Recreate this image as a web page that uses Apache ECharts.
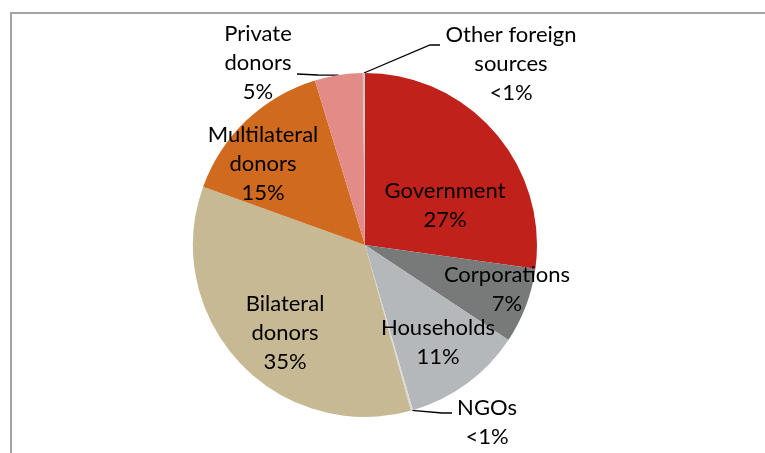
<!DOCTYPE html>
<html>
<head>
<meta charset="utf-8">
<script src="https://cdn.jsdelivr.net/npm/echarts@6/dist/echarts.min.js"></script>
<style>
  html, body { margin: 0; padding: 0; background: #fff; }
  #chart { width: 765px; height: 453px; }
</style>
</head>
<body>
<div id="chart"></div>
<script>
// Funding sources, share of total (%), clockwise from the top
const categories = ['Government', 'Corporations', 'Households', 'NGOs',
  'Bilateral donors', 'Multilateral donors', 'Private donors', 'Other foreign sources'];
const shares = [27.2, 7.1, 11.2, 0.2, 34.8, 14.8, 4.5, 0.2];
const labelNames = ['Government', 'Corporations', 'Households', 'NGOs',
  'Bilateral\ndonors', 'Multilateral\ndonors', 'Private\ndonors', 'Other foreign\nsources'];

const sliceColors = ['#C0211A', '#787A7A', '#B5B8BA', '#D9D9D9',
  '#C6B993', '#CF6A1F', '#E38B86', '#C8C8C8'];

// Pie geometry
const CX = 365, CY = 245, R = 172;

// Label block centres, offset from the pie centre
const labelOffsets = [[80, -40], [142, 44], [73, 97], [122, 177],
  [-80, 88], [-102, -81], [-107, -182], [146, -181]];
// Leader line bend and end points for the labels placed outside
const leaderLines = {
  3: [[442, 413], [452, 413]],
  6: [[318, 75], [297, 74]],
  7: [[430, 45], [440, 45]]
};

const total = shares.reduce((a, b) => a + b, 0);
function edgePoint(i) {
  let before = 0;
  for (let k = 0; k < i; k++) before += shares[k];
  const ang = (before + shares[i] / 2) / total * Math.PI * 2;
  return [CX + R * Math.sin(ang), CY - R * Math.cos(ang)];
}

function pctText(v) {
  return v < 1 ? '<1%' : Math.round(v) + '%';
}

const chart = echarts.init(document.getElementById('chart'), null, { renderer: 'canvas' });
chart.setOption({
  backgroundColor: '#ffffff',
  animation: false,
  graphic: [{
    type: 'polyline',
    shape: { points: [[11, 453], [11, 13], [765, 13]] },
    style: { stroke: '#a3a3a3', lineWidth: 2, fill: null },
    silent: true
  }],
  series: [{
    type: 'pie',
    center: [CX, CY],
    radius: R,
    startAngle: 90,
    clockwise: true,
    avoidLabelOverlap: false,
    itemStyle: { borderWidth: 0 },
    label: {
      show: true,
      position: 'inside',
      color: '#000',
      fontFamily: 'Lato',
      fontSize: 22,
      lineHeight: 29,
      align: 'center',
      formatter: p => labelNames[p.dataIndex] + '\n' + pctText(p.value)
    },
    labelLine: { show: false },
    labelLayout: function (params) {
      const i = params.dataIndex;
      const o = labelOffsets[i];
      const res = { x: CX + o[0], y: CY + o[1], align: 'center', verticalAlign: 'middle' };
      if (leaderLines[i]) {
        res.labelLinePoints = [edgePoint(i), leaderLines[i][0], leaderLines[i][1]];
      }
      return res;
    },
    data: categories.map((name, i) => {
      const d = { name: name, value: shares[i], itemStyle: { color: sliceColors[i] } };
      if (leaderLines[i]) {
        d.label = { position: 'outside' };
        d.labelLine = { show: true, lineStyle: { color: '#000', width: 1.3 }, smooth: false };
      }
      return d;
    })
  }]
});
</script>
</body>
</html>
